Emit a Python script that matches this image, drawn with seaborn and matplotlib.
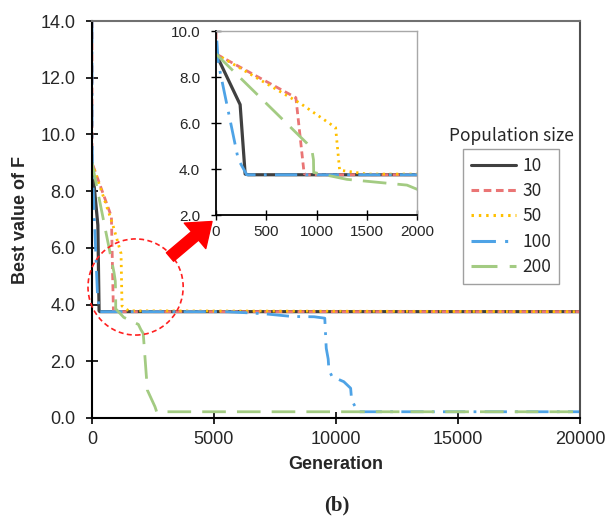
import numpy as np
import pandas as pd
import seaborn as sns
import matplotlib.pyplot as plt
from matplotlib.patches import Ellipse, FancyArrowPatch

# population size -> (generation, best F)
SIZES = ['10', '30', '50', '100', '200']

gen_10 = [0, 240, 290, 320, 20000]
f_10 = [9.0, 6.8, 3.78, 3.75, 3.75]

gen_30 = [0, 1, 795, 877, 900, 20000]
f_30 = [14.0, 9.0, 7.1, 3.8, 3.75, 3.75]

gen_50 = [0, 840, 1190, 1230, 1500, 20000]
f_50 = [9.0, 6.85, 5.8, 3.95, 3.78, 3.75]

gen_100 = [0, 2, 23, 222, 249, 306, 5500, 7000, 8200, 9100, 9540, 9600, 9680,
           9710, 9840, 10320, 10600, 10640, 10900, 20000]
f_100 = [14.0, 10.0, 8.6, 4.4, 4.2, 3.75, 3.75, 3.68, 3.58, 3.57, 3.52, 2.46, 2.08,
         1.69, 1.46, 1.28, 1.05, 0.63, 0.22, 0.22]

gen_200 = [0, 904, 954, 970, 972, 1302, 1900, 2000, 2100, 2270, 2580, 2650, 20000]
f_200 = [9.0, 5.12, 4.83, 4.4, 3.85, 3.55, 3.3, 3.12, 2.98, 0.98, 0.4, 0.22, 0.22]

main_xticks = [0, 5000, 10000, 15000, 20000]
main_yticks = [0, 2, 4, 6, 8, 10, 12, 14]
inset_xticks = [0, 500, 1000, 1500, 2000]
inset_yticks = [2, 4, 6, 8, 10]

series = {'10': (gen_10, f_10), '30': (gen_30, f_30), '50': (gen_50, f_50),
          '100': (gen_100, f_100), '200': (gen_200, f_200)}
df = pd.concat([pd.DataFrame({'gen': g, 'F': f, 'size': s})
                for s, (g, f) in series.items()], ignore_index=True)

palette = {'10': '#404040', '30': '#EA7575', '50': '#FFC000',
           '100': '#4EA3E6', '200': '#A3CB82'}
dashes = {'10': '', '30': (2.5, 1.5), '50': (0.8, 1.6),
          '100': (8, 3, 1, 3), '200': (8.5, 4)}

sns.set_theme(style='ticks')
plt.rcParams['font.family'] = ['Liberation Sans', 'DejaVu Sans']

fig = plt.figure(figsize=(6.08, 5.16), dpi=100)
W, H = 608, 516
ax = fig.add_axes([92 / W, 1 - 418 / H, 488 / W, 397 / H])

sns.lineplot(data=df, x='gen', y='F', hue='size', style='size', hue_order=SIZES,
             style_order=SIZES, palette=palette, dashes=dashes, estimator=None,
             sort=False, linewidth=2.0, ax=ax)
ax.lines[0].set_linewidth(2.3)

ax.set_xlim(0, 20000)
ax.set_ylim(0, 14)
ax.set_xticks(main_xticks)
ax.set_yticks(main_yticks)
ax.set_yticklabels([f'{v:.1f}' for v in main_yticks])
ax.set_xlabel('Generation', fontsize=13, fontweight='bold', labelpad=6)
ax.set_ylabel('Best value of F', fontsize=13, fontweight='bold', labelpad=8)
ax.tick_params(axis='both', direction='inout', length=8, width=1.2, labelsize=13,
               color='black', pad=5, bottom=True, left=True)
ax.tick_params(axis='y', pad=8)
for side in ['left', 'bottom']:
    ax.spines[side].set_color('black')
    ax.spines[side].set_linewidth(1.5)
ax.spines['top'].set_visible(True)
ax.spines['right'].set_visible(True)
ax.spines['top'].set_color('#707070')
ax.spines['right'].set_color('#505050')
ax.spines['top'].set_linewidth(1.5)
ax.spines['right'].set_linewidth(1.5)

# legend with the title drawn above the box
handles, labels = ax.get_legend_handles_labels()
leg = ax.legend(handles, labels, loc='upper left',
                bbox_to_anchor=(463 / W, 1 - 149 / H), bbox_transform=fig.transFigure,
                borderaxespad=0, frameon=True, fancybox=False, edgecolor='#888888',
                handlelength=2.6, handletextpad=0.35, labelspacing=0.42, borderpad=0.45,
                prop={'family': ['Noto Sans CJK KR', 'DejaVu Sans'], 'size': 12.5})
leg.get_frame().set_linewidth(1.0)
for line in leg.get_lines():
    line.set_linewidth(2.2)
fig.text(511 / W, 1 - 136 / H, 'Population size', ha='center', va='center',
         fontsize=12.5, family=['Noto Sans CJK KR', 'DejaVu Sans'])

# inset zoom on the first 2000 generations
axin = fig.add_axes([216 / W, 1 - 215 / H, 201 / W, 184 / H])
sns.lineplot(data=df, x='gen', y='F', hue='size', style='size', hue_order=SIZES,
             style_order=SIZES, palette=palette, dashes=dashes, estimator=None,
             sort=False, linewidth=2.0, ax=axin, legend=False)
axin.lines[0].set_linewidth(2.3)
axin.set_xlim(0, 2000)
axin.set_ylim(2, 10)
axin.set_xticks(inset_xticks)
axin.set_yticks(inset_yticks)
axin.set_yticklabels([f'{v:.1f}' for v in inset_yticks])
axin.set_xlabel('')
axin.set_ylabel('')
axin.tick_params(axis='both', direction='inout', length=7, width=1.0, labelsize=11,
                 color='black', pad=4, bottom=True, left=True)
axin.tick_params(axis='y', pad=8)
for side in ['left', 'bottom']:
    axin.spines[side].set_color('black')
    axin.spines[side].set_linewidth(1.3)
for side in ['top', 'right']:
    axin.spines[side].set_visible(True)
    axin.spines[side].set_color('#a8a8a8')
    axin.spines[side].set_linewidth(1.0)

# dashed red circle and arrow pointing at the inset
circle = Ellipse((1786, 4.62), width=3901, height=3.39, fill=False,
                 edgecolor='#ff2020', linestyle=(0, (3, 2)), linewidth=1.2,
                 clip_on=False, zorder=5)
ax.add_patch(circle)
arrow = FancyArrowPatch((170 / W, 1 - 257 / H), (212 / W, 1 - 221.5 / H),
                        transform=fig.transFigure,
                        arrowstyle='simple,head_width=24,head_length=16,tail_width=8',
                        mutation_scale=1, color='#ff0000', shrinkA=0, shrinkB=0)
fig.patches.append(arrow)

fig.text(337 / W, 1 - 505 / H, '(b)', ha='center', va='center', fontsize=15,
         fontweight='bold', family=['Liberation Serif', 'DejaVu Serif'])

fig.savefig('out.png', dpi=100)
